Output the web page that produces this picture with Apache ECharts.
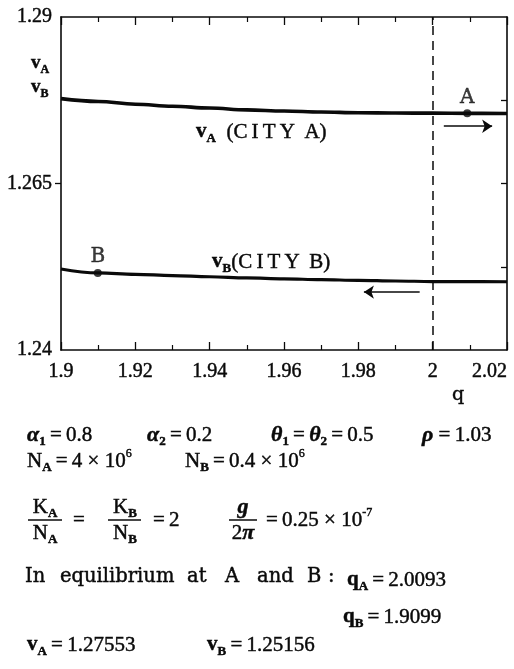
<!DOCTYPE html>
<html>
<head>
<meta charset="utf-8">
<script src="https://cdn.jsdelivr.net/npm/echarts@6/dist/echarts.min.js"></script>
<style>
  html, body { margin: 0; padding: 0; background: #fff; }
  #chart { width: 514px; height: 669px; }
</style>
</head>
<body>
<div id="chart"></div>
<script>
// Commuting cost q on the horizontal axis, utility levels v of the two cities.
const qGrid = [1.90, 1.91, 1.92, 1.93, 1.94, 1.95, 1.96, 1.97, 1.98, 1.99, 2.00, 2.01, 2.02];
const vCityA = [1.27774, 1.27732, 1.27691, 1.27661, 1.27633, 1.27606, 1.27588, 1.27573, 1.27563, 1.27558, 1.27556, 1.27553, 1.27552];
const vCityB = [1.25216, 1.25157, 1.25137, 1.25118, 1.25100, 1.25082, 1.25068, 1.25056, 1.25046, 1.25036, 1.25028, 1.25026, 1.25025];

// Equilibria: [q, v]
const equilibriumA = [2.0093, 1.27553];
const equilibriumB = [1.9099, 1.25156];

// Critical commuting cost (dashed line) and the adjustment arrows
const qCritical = 2.0;
const arrowA = [[2.003, 1.2736], [2.016, 1.2736]];
const arrowB = [[1.9965, 1.2487], [1.9815, 1.2487]];

// Axis ticks
const qMin = 1.9, qMax = 2.02, qStep = 0.02;
const vTickLabels = [1.24, 1.265, 1.29];
const vRightTicks = [1.2525, 1.265, 1.2775];

const SERIF = "'Liberation Serif', 'Times New Roman', serif";
const WIDE = "'DejaVu Serif', 'Liberation Serif', serif";
const INK = '#0a0a0a';
const HEAVY = 0.45; // slight outline so the type prints as dark as the rules

const chart = echarts.init(document.getElementById('chart'), null, { renderer: 'canvas' });

const xCommon = {
  type: 'value', min: qMin, max: qMax, interval: qStep,
  axisLine: { show: true, onZero: false, lineStyle: { color: INK, width: 1.6 } },
  axisTick: { show: true, inside: true, length: 8, lineStyle: { color: INK, width: 1.3 } },
  minorTick: { show: true, splitNumber: 2, length: 5, lineStyle: { color: INK, width: 1.2 } },
  splitLine: { show: false },
  minorSplitLine: { show: false }
};

// Rich text styles for subscripts / superscripts
function rich(size, fam) {
  const base = { fill: INK, color: INK, stroke: INK, lineWidth: HEAVY };
  return {
    n: Object.assign({ fontFamily: fam || SERIF, fontSize: size, lineHeight: 26 }, base),
    b: Object.assign({ fontFamily: SERIF, fontSize: size, fontWeight: 'bold', lineHeight: 26 }, base),
    g: Object.assign({ fontFamily: SERIF, fontSize: size + 1, fontStyle: 'italic', fontWeight: 'bold', lineHeight: 26 }, base),
    s: Object.assign({ fontFamily: SERIF, fontSize: Math.round(size * 0.64), fontWeight: 'bold', lineHeight: 19, verticalAlign: 'bottom' }, base),
    p: Object.assign({ fontFamily: SERIF, fontSize: Math.round(size * 0.58), lineHeight: 15, verticalAlign: 'top' }, base)
  };
}

function txt(x, y, text, size, fam, align) {
  return {
    type: 'text', x: x, y: y, silent: true,
    style: {
      text: text, fontFamily: fam || SERIF, fontSize: size || 20,
      fill: INK, stroke: INK, lineWidth: HEAVY,
      align: align || 'left', verticalAlign: 'middle', rich: rich(size || 20, fam)
    }
  };
}
function bar(x1, x2, y) {
  return { type: 'line', silent: true, shape: { x1: x1, y1: y, x2: x2, y2: y }, style: { stroke: INK, lineWidth: 1.5 } };
}

const graphics = [
  // axis caption on the left
  txt(31, 63, '{b|v}{s|A}', 19),
  txt(31, 87, '{b|v}{s|B}', 19),
  // curve captions
  txt(196, 132, '{b|v}{s|A}{n|  (C\u2009I\u2009T\u2009Y\u2009 A)}', 21),
  txt(212, 262, '{b|v}{s|B}{n|(C\u2009I\u2009T\u2009Y\u2009 B)}', 21),
  // horizontal axis name
  txt(458, 395, 'q', 19, WIDE, 'center'),
  // parameters
  txt(27, 435, '{g|\u03b1}{s|1}{n|\u2009=\u20090.8}', 21),
  txt(147, 435, '{g|\u03b1}{s|2}{n|\u2009=\u20090.2}', 21),
  txt(271, 435, '{g|\u03b8}{s|1}{n|\u2009=\u2009}{g|\u03b8}{s|2}{n|\u2009=\u20090.5}', 21),
  txt(422, 435, '{g|\u03c1}{n| =\u20091.03}', 21),
  txt(27, 461, '{n|N}{s|A}{n|\u2009=\u20094 \u00d7 10}{p|6}', 21),
  txt(185, 461, '{n|N}{s|B}{n|\u2009=\u20090.4 \u00d7 10}{p|6}', 21),
  // fractions
  txt(45, 507, '{n|K}{s|A}', 21, null, 'center'),
  bar(28, 62, 520),
  txt(45, 533, '{n|N}{s|A}', 21, null, 'center'),
  txt(73, 520, '=', 21),
  txt(125, 507, '{n|K}{s|B}', 21, null, 'center'),
  bar(108, 141, 520),
  txt(125, 533, '{n|N}{s|B}', 21, null, 'center'),
  txt(153, 520, '=\u20092', 21),
  txt(243, 507, '{g|g}', 21, null, 'center'),
  bar(229, 257, 520),
  txt(243, 533, '{n|2}{g|\u03c0}', 21, null, 'center'),
  txt(266, 520, '{n|=\u20090.25 \u00d7 10}{p|-7}', 21),
  // equilibrium statement
  txt(25, 577, 'In', 19.5, WIDE),
  txt(60, 577, 'equilibrium', 19.5, WIDE),
  txt(187, 577, 'at', 19.5, WIDE),
  txt(225, 577, 'A', 19.5, WIDE),
  txt(257, 577, 'and', 19.5, WIDE),
  txt(307, 577, 'B', 19.5, WIDE),
  txt(328, 577, ':', 19.5, WIDE),
  txt(347, 580, '{b|q}{s|A}{n|\u2009=\u20092.0093}', 21),
  txt(343, 617, '{b|q}{s|B}{n|\u2009=\u20091.9099}', 21),
  txt(27, 645, '{b|v}{s|A}{n|\u2009=\u20091.27553}', 21),
  txt(207, 645, '{b|v}{s|B}{n|\u2009=\u20091.25156}', 21)
];

const tickLabelStyle = {
  color: INK, fontFamily: SERIF, fontSize: 20,
  textBorderColor: INK, textBorderWidth: HEAVY
};

const option = {
  backgroundColor: '#fff',
  animation: false,
  grid: { left: 61, right: 7, top: 17, bottom: 319, containLabel: false },
  xAxis: [
    Object.assign({}, xCommon, {
      position: 'bottom',
      axisLabel: Object.assign({
        show: true, margin: 12, alignMaxLabel: 'right', showMinLabel: true, showMaxLabel: true
      }, tickLabelStyle)
    }),
    Object.assign({}, xCommon, { position: 'top', axisLabel: { show: false } })
  ],
  yAxis: [
    {
      type: 'value', position: 'left', min: 1.24, max: 1.29,
      axisLine: { show: true, onZero: false, lineStyle: { color: INK, width: 1.6 } },
      axisTick: { show: true, inside: false, length: 6, customValues: [1.265], lineStyle: { color: INK, width: 1.3 } },
      axisLabel: Object.assign({ show: true, margin: 9, customValues: vTickLabels }, tickLabelStyle),
      splitLine: { show: false }
    },
    {
      type: 'value', position: 'right', min: 1.24, max: 1.29,
      axisLine: { show: true, onZero: false, lineStyle: { color: INK, width: 1.6 } },
      axisTick: { show: true, inside: true, length: 6, customValues: vRightTicks, lineStyle: { color: INK, width: 1.3 } },
      axisLabel: { show: false },
      splitLine: { show: false }
    }
  ],
  series: [
    {
      name: 'vA', type: 'line', xAxisIndex: 0, yAxisIndex: 0,
      data: qGrid.map((q, i) => [q, vCityA[i]]),
      smooth: 0.4, smoothMonotone: 'x', showSymbol: false, silent: true,
      lineStyle: { color: INK, width: 3.6 },
      markLine: {
        silent: true, symbol: 'none', animation: false,
        label: { show: false },
        lineStyle: { color: INK, width: 1.5, type: [9, 6] },
        data: [{ xAxis: qCritical }]
      }
    },
    {
      name: 'vB', type: 'line', xAxisIndex: 0, yAxisIndex: 0,
      data: qGrid.map((q, i) => [q, vCityB[i]]),
      smooth: 0.4, smoothMonotone: 'x', showSymbol: false, silent: true,
      lineStyle: { color: INK, width: 3.2 }
    },
    {
      name: 'adjustment', type: 'lines', coordinateSystem: 'cartesian2d',
      xAxisIndex: 0, yAxisIndex: 0, silent: true,
      symbol: ['none', 'arrow'], symbolSize: 10,
      lineStyle: { color: INK, width: 1.6, opacity: 1 },
      data: [{ coords: arrowA }, { coords: arrowB }]
    },
    {
      name: 'equilibrium', type: 'scatter', xAxisIndex: 0, yAxisIndex: 0, silent: true,
      symbolSize: 8, itemStyle: { color: INK },
      label: {
        show: true, position: 'top', distance: 2, formatter: '{b}', color: INK,
        fontFamily: WIDE, fontSize: 20, textBorderColor: INK, textBorderWidth: HEAVY
      },
      data: [{ name: 'A', value: equilibriumA }, { name: 'B', value: equilibriumB }],
      z: 5
    }
  ],
  graphic: graphics
};

chart.setOption(option);
</script>
</body>
</html>
